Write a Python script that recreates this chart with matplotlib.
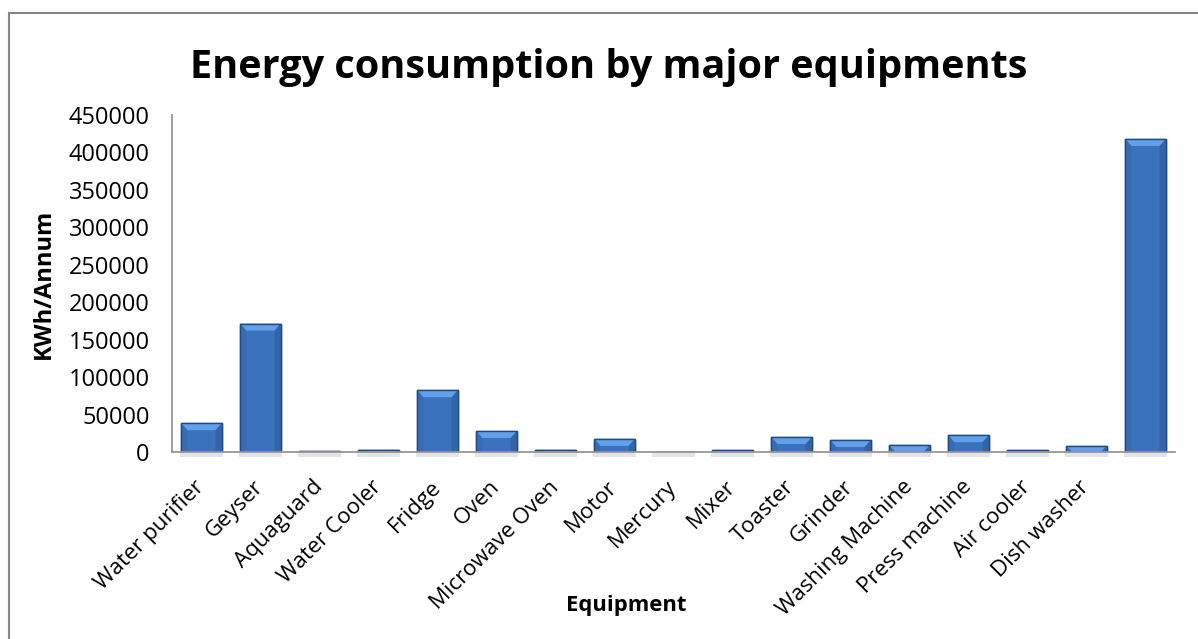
import numpy as np
import matplotlib.pyplot as plt
from matplotlib.patches import Rectangle, Polygon

plt.rcParams['font.family'] = ['Open Sans', 'DejaVu Sans']

equipment = ['Water purifier', 'Geyser', 'Aquaguard', 'Water Cooler', 'Fridge',
             'Oven', 'Microwave Oven', 'Motor', 'Mercury', 'Mixer', 'Toaster',
             'Grinder', 'Washing Machine', 'Press machine', 'Air cooler',
             'Dish washer', '']
kwh = [38500, 171500, 1000, 3000, 82500, 28000, 3000, 17500, 500, 2500,
       20000, 16000, 9000, 22500, 2500, 8000, 418000]
yticks = [0, 50000, 100000, 150000, 200000, 250000, 300000, 350000, 400000, 450000]

W, H = 1198, 639
fig = plt.figure(figsize=(W / 100, H / 100), dpi=100)
fig.patches.append(Rectangle((9 / W, -0.1), 1.2, 1 - 13 / H + 0.1,
                             transform=fig.transFigure, fill=False,
                             edgecolor='#868686', linewidth=1.5))

ax = fig.add_axes([172 / W, 1 - 452 / H, (1175 - 172) / W, (452 - 115) / H])
x = np.arange(len(equipment))
bars = ax.bar(x, kwh, width=0.68, color='#3a72bd', edgecolor='#1f4a82',
              linewidth=1.0, zorder=3)

ax.set_xlim(-0.5, len(equipment) - 0.5)
ax.set_ylim(0, 450000)

# bevelled look: light top facet, slightly darker sides, soft shadow under each bar
px_x = (len(equipment)) / (1175 - 172)
px_y = 450000 / (452 - 115)
for b in bars:
    x0, w, h = b.get_x(), b.get_width(), b.get_height()
    by = min(7 * px_y, h)
    bx = min(6 * px_x, w / 2)
    top = [(x0, h), (x0 + w, h), (x0 + w - bx, h - by), (x0 + bx, h - by)]
    left = [(x0, 0), (x0, h), (x0 + bx, h - by), (x0 + bx, 0)]
    right = [(x0 + w, 0), (x0 + w, h), (x0 + w - bx, h - by), (x0 + w - bx, 0)]
    ax.add_patch(Polygon(left, closed=True, facecolor='#376cb3', lw=0, zorder=4))
    ax.add_patch(Polygon(right, closed=True, facecolor='#3264a6', lw=0, zorder=4))
    ax.add_patch(Polygon(top, closed=True, facecolor='#62a0ea', lw=0, zorder=4))
    ax.add_patch(Rectangle((x0, 0), w, h, fill=False, edgecolor='#1f4a82',
                           lw=1.0, zorder=5))
    ax.add_patch(Rectangle((x0 - 0.02, -5 * px_y), w + 0.04, 5 * px_y,
                           facecolor='#e4e4e4', lw=0, zorder=1, clip_on=False))

ax.set_yticks(yticks)
ax.set_yticklabels([str(v) for v in yticks], fontsize=17)
ax.tick_params(axis='y', length=0, pad=16)
ax.set_xticks(x)
ax.set_xticklabels(equipment, rotation=45, ha='right', va='center',
                   rotation_mode='anchor', fontsize=16)
ax.tick_params(axis='x', length=0, pad=23)

for side in ['top', 'right']:
    ax.spines[side].set_visible(False)
for side in ['left', 'bottom']:
    ax.spines[side].set_color('#969696')
    ax.spines[side].set_linewidth(1.3)
    ax.spines[side].set_zorder(6)

fig.text(44 / W, 1 - 284 / H, 'KWh/Annum', fontsize=17, fontweight='bold',
         rotation=90, ha='center', va='center')
fig.text(626 / W, 1 - 605 / H, 'Equipment', fontsize=15.8, fontweight='bold',
         ha='center', va='center')
fig.text(609 / W, 1 - 78 / H, 'Energy consumption by major equipments',
         fontsize=28.5, fontweight='bold', ha='center', va='baseline')

fig.savefig('out.png', dpi=100)
